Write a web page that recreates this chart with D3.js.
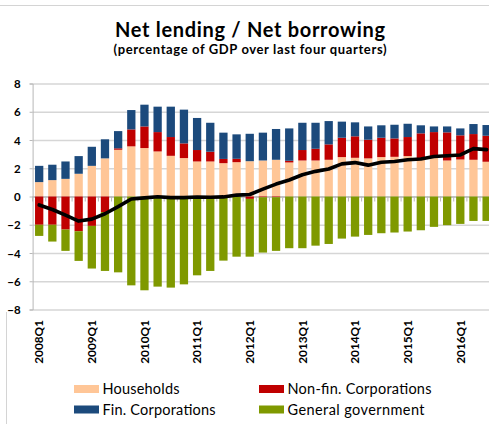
<!DOCTYPE html>
<html>
<head>
<meta charset="utf-8">
<script src="https://cdn.jsdelivr.net/npm/d3@7"></script>
<style>
  html, body { margin: 0; padding: 0; background: #fff; }
  svg { display: block; font-family: Lato, "Open Sans", sans-serif; }
</style>
</head>
<body>
<svg id="chart" width="489" height="424"></svg>
<script>
const quarters = [
  "2008Q1","2008Q2","2008Q3","2008Q4",
  "2009Q1","2009Q2","2009Q3","2009Q4",
  "2010Q1","2010Q2","2010Q3","2010Q4",
  "2011Q1","2011Q2","2011Q3","2011Q4",
  "2012Q1","2012Q2","2012Q3","2012Q4",
  "2013Q1","2013Q2","2013Q3","2013Q4",
  "2014Q1","2014Q2","2014Q3","2014Q4",
  "2015Q1","2015Q2","2015Q3","2015Q4",
  "2016Q1","2016Q2","2016Q3"
];
const households = [1.02,1.16,1.25,1.61,2.17,2.70,3.31,3.55,3.43,3.19,2.88,2.72,2.48,2.48,2.36,2.43,2.50,2.55,2.60,2.41,2.55,2.55,2.60,2.79,2.74,2.70,2.79,2.81,2.86,2.62,2.77,2.55,2.62,2.60,2.46];
const nonFinCorp = [-2.00,-2.00,-2.34,-2.46,-2.08,-1.10,0.10,1.20,1.53,1.37,1.33,1.04,0.81,0.69,0.30,0.24,-0.17,-0.05,-0.05,0.12,0.74,0.83,1.09,1.37,1.52,1.32,1.37,1.30,1.35,1.85,1.79,1.99,1.71,1.82,1.84];
const finCorp = [1.15,1.09,1.23,1.25,1.35,1.35,1.22,1.37,1.54,1.80,2.15,2.39,2.27,2.05,1.86,1.73,1.94,1.97,2.18,2.29,1.93,1.84,1.65,1.14,0.99,0.94,0.88,0.97,0.94,0.57,0.40,0.42,0.49,0.71,0.76];
const generalGov = [-0.79,-1.19,-1.51,-2.10,-3.02,-4.17,-5.37,-6.29,-6.64,-6.38,-6.45,-6.22,-5.58,-5.27,-4.54,-4.26,-4.09,-3.92,-3.80,-3.66,-3.66,-3.48,-3.36,-2.98,-2.84,-2.72,-2.60,-2.55,-2.48,-2.39,-2.15,-2.03,-1.94,-1.73,-1.73];
const total = [-0.60,-0.92,-1.32,-1.74,-1.60,-1.22,-0.72,-0.18,-0.10,-0.02,-0.08,-0.08,-0.04,-0.05,-0.03,0.10,0.14,0.52,0.88,1.17,1.54,1.78,1.95,2.31,2.40,2.22,2.42,2.48,2.60,2.66,2.83,2.88,2.94,3.39,3.32];
const yTicks = [8,6,4,2,0,-2,-4,-6,-8];
const seriesKeys = ["households","nonFinCorp","finCorp","generalGov"];
const seriesNames = ["Households","Non-fin. Corporations","Fin. Corporations","General government"];
const seriesColors = ["#FFC697","#C00000","#1C4A7C","#7F9900"];

const rows = quarters.map((q, i) => ({
  q, households: households[i], nonFinCorp: nonFinCorp[i],
  finCorp: finCorp[i], generalGov: generalGov[i], total: total[i]
}));

const svg = d3.select("#chart");
const W = 489, H = 424;
const plot = { left: 32.6, right: 32.6 + 13.16 * quarters.length, top: 83.5, bottom: 309.5 };

const x = d3.scaleBand().domain(quarters).range([plot.left, plot.right])
  .paddingInner(0.37).paddingOuter(0.185);
const y = d3.scaleLinear().domain([-8, 8]).range([plot.bottom, plot.top]);

// frame lines
svg.append("line").attr("x1", 0).attr("x2", W).attr("y1", 5.5).attr("y2", 5.5)
  .attr("stroke", "#d4d4d4").attr("stroke-width", 1);
svg.append("line").attr("x1", 6.5).attr("x2", 6.5).attr("y1", 312).attr("y2", H)
  .attr("stroke", "#d4d4d4").attr("stroke-width", 1);

// title
svg.append("text").attr("x", 250).attr("y", 36.5).attr("text-anchor", "middle")
  .attr("font-weight", "bold").attr("font-size", 20).attr("fill", "#000")
  .attr("textLength", 270).attr("lengthAdjust", "spacing")
  .text("Net lending / Net borrowing");
svg.append("text").attr("x", 250).attr("y", 53.5).attr("text-anchor", "middle")
  .attr("font-weight", "bold").attr("font-size", 13).attr("fill", "#000")
  .attr("textLength", 273).attr("lengthAdjust", "spacing")
  .text("(percentage of GDP over last four quarters)");

// gridlines
const grid = svg.append("g");
grid.selectAll("line").data(yTicks).join("line")
  .attr("x1", plot.left).attr("x2", W)
  .attr("y1", d => y(d) + 0.5).attr("y2", d => y(d) + 0.5)
  .attr("stroke", d => d === 0 ? "#b0b0b0" : "#d6d6d6").attr("stroke-width", 1.5);

// y axis
const yAxis = d3.axisLeft(y).tickValues(yTicks).tickSize(3).tickPadding(9).tickFormat(d3.format("d"));
const ya = svg.append("g").attr("transform", `translate(${plot.left},0)`).call(yAxis);
ya.select(".domain").attr("stroke", "#b8b8b8");
ya.selectAll(".tick line").attr("stroke", "#b8b8b8");
ya.selectAll(".tick text").attr("font-family", "Lato, sans-serif").attr("font-size", 11.5)
  .attr("font-weight", "bold").attr("fill", "#000").attr("dy", "0.36em");

// category ticks on zero line
const boundaries = quarters.map(q => x(q) - x.step() * x.paddingInner() / 2);
svg.append("g").selectAll("line").data(boundaries).join("line")
  .attr("x1", d => d).attr("x2", d => d)
  .attr("y1", y(0)).attr("y2", y(0) + 5)
  .attr("stroke", "#b8b8b8").attr("stroke-width", 1);

// stacked bars
const stack = d3.stack().keys(seriesKeys).offset(d3.stackOffsetDiverging);
const stacked = stack(rows);
svg.append("g").selectAll("g").data(stacked).join("g")
  .attr("fill", (d, i) => seriesColors[i])
  .selectAll("rect").data(d => d).join("rect")
  .attr("x", d => x(d.data.q))
  .attr("width", x.bandwidth())
  .attr("y", d => y(Math.max(d[0], d[1])))
  .attr("height", d => Math.abs(y(d[0]) - y(d[1])));

// total line
const line = d3.line().x(d => x(d.q) + x.bandwidth() / 2).y(d => y(d.total));
svg.append("path").datum(rows).attr("d", line)
  .attr("fill", "none").attr("stroke", "#000").attr("stroke-width", 3.6)
  .attr("stroke-linejoin", "round").attr("stroke-linecap", "round");

// x labels (Q1 only)
svg.append("g").selectAll("text").data(quarters.filter(q => q.endsWith("Q1"))).join("text")
  .attr("transform", q => `translate(${x(q) + x.bandwidth() / 2},320) rotate(-90)`)
  .attr("text-anchor", "end").attr("dy", "0.36em")
  .attr("font-size", 11.8).attr("font-weight", "bold").attr("fill", "#000")
  .text(q => q);

// legend
const legendPos = [[74, 389], [259, 389], [74, 409.5], [259, 409.5]];
const legendWidths = [77, 144, 113, 137];
const legend = svg.append("g").selectAll("g").data(seriesNames).join("g")
  .attr("transform", (d, i) => `translate(${legendPos[i][0]},${legendPos[i][1]})`);
legend.append("rect").attr("x", 0).attr("y", -4).attr("width", 25).attr("height", 8)
  .attr("fill", (d, i) => seriesColors[i]);
legend.append("text").attr("x", 28.5).attr("y", 0).attr("dy", "0.35em")
  .attr("font-size", 14.5).attr("fill", "#000")
  .attr("textLength", (d, i) => legendWidths[i]).attr("lengthAdjust", "spacing")
  .text(d => d);
</script>
</body>
</html>
